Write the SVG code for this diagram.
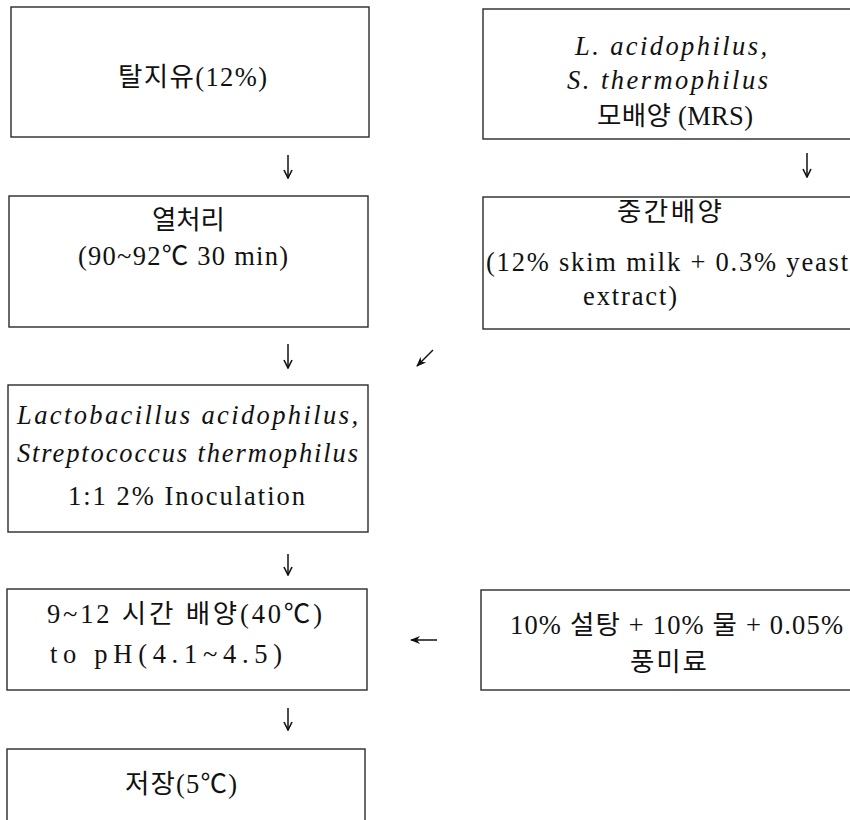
<svg xmlns="http://www.w3.org/2000/svg" width="850" height="820" viewBox="0 0 850 820">
<style>
.box{fill:#fff;stroke:#2a2a2a;stroke-width:1.4}
.t{font-family:"Liberation Serif","Noto Sans CJK KR",serif;font-size:26.5px;fill:#111}
.i{font-style:italic}
.arr{fill:none;stroke:#111;stroke-width:1.5}
</style>
<defs>
<marker id="ah" viewBox="0 0 10 10" refX="9" refY="5" markerWidth="10" markerHeight="10" markerUnits="userSpaceOnUse" orient="auto">
<path d="M1,1 L9,5 L1,9" fill="none" stroke="#111" stroke-width="1.6"/>
</marker>
<marker id="ahf" viewBox="0 0 10 10" refX="9" refY="5" markerWidth="10" markerHeight="10" markerUnits="userSpaceOnUse" orient="auto">
<path d="M0,1 L10,5 L0,9 L3,5 Z" fill="#111"/>
</marker>
</defs>
<rect width="850" height="820" fill="#fff"/>
<g id="connectors">
<path class="arr" d="M288,155 V178" marker-end="url(#ah)"/>
<path class="arr" d="M807,153 V177" marker-end="url(#ah)"/>
<path class="arr" d="M288,344 V368" marker-end="url(#ah)"/>
<path class="arr" d="M433,350 L417,366" marker-end="url(#ahf)"/>
<path class="arr" d="M288,554 V575" marker-end="url(#ah)"/>
<path class="arr" d="M437,640 H411" marker-end="url(#ahf)"/>
<path class="arr" d="M288,708 V730" marker-end="url(#ah)"/>
</g>
<g id="n1">
<rect class="box" x="11" y="7" width="358" height="130"/>
<text class="t" x="118" y="86" textLength="149" lengthAdjust="spacing">탈지유(12%)</text>
</g>
<g id="n2">
<rect class="box" x="483" y="9" width="390" height="130"/>
<text class="t i" x="575" y="55" textLength="192" lengthAdjust="spacing">L. acidophilus,</text>
<text class="t i" x="567" y="89" textLength="201" lengthAdjust="spacing">S. thermophilus</text>
<text class="t" x="597" y="125" textLength="156" lengthAdjust="spacing">모배양 (MRS)</text>
</g>
<g id="n3">
<rect class="box" x="9" y="196" width="359" height="131"/>
<text class="t" x="152" y="229" textLength="73" lengthAdjust="spacing">열처리</text>
<text class="t" x="78" y="265" textLength="210" lengthAdjust="spacing">(90~92℃ 30 min)</text>
</g>
<g id="n4">
<rect class="box" x="483" y="197" width="390" height="132"/>
<text class="t" x="617" y="221" textLength="105" lengthAdjust="spacing">중간배양</text>
<text class="t" x="486" y="271" textLength="362" lengthAdjust="spacing">(12% skim milk + 0.3% yeast</text>
<text class="t" x="583" y="305" textLength="94" lengthAdjust="spacing">extract)</text>
</g>
<g id="n5">
<rect class="box" x="8" y="385" width="360" height="147"/>
<text class="t i" x="17" y="424" textLength="341" lengthAdjust="spacing">Lactobacillus acidophilus,</text>
<text class="t i" x="17" y="462" textLength="341" lengthAdjust="spacing">Streptococcus thermophilus</text>
<text class="t" x="68" y="505" textLength="237" lengthAdjust="spacing">1:1 2% Inoculation</text>
</g>
<g id="n6">
<rect class="box" x="7" y="589" width="360" height="101"/>
<text class="t" x="47" y="623" textLength="275" lengthAdjust="spacing">9~12 시간 배양(40℃)</text>
<text class="t" x="50" y="663" textLength="232" lengthAdjust="spacing">to pH(4.1~4.5)</text>
</g>
<g id="n7">
<rect class="box" x="481" y="590" width="392" height="100"/>
<text class="t" x="510" y="634" textLength="333" lengthAdjust="spacing">10% 설탕 + 10% 물 + 0.05%</text>
<text class="t" x="630" y="671" textLength="77" lengthAdjust="spacing">풍미료</text>
</g>
<g id="n8">
<rect class="box" x="7" y="749" width="358" height="90"/>
<text class="t" x="125" y="793" textLength="112" lengthAdjust="spacing">저장(5℃)</text>
</g>
</svg>
